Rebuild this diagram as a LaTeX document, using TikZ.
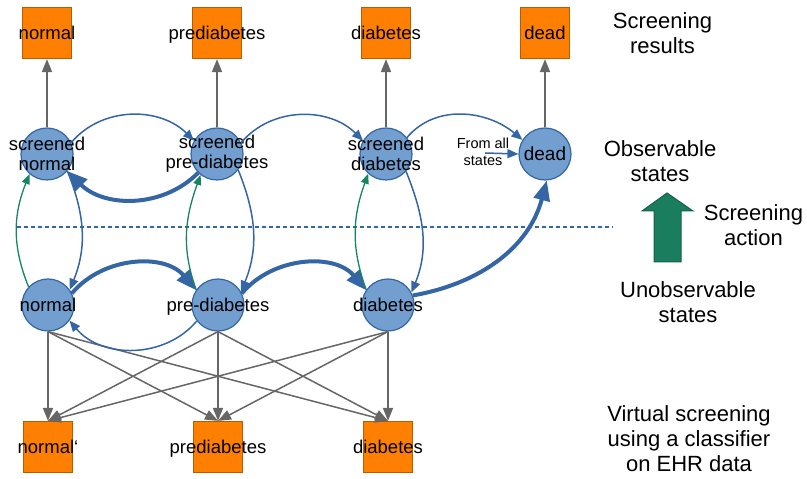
\documentclass[tikz,border=0pt]{standalone}
\usepackage{fontspec}
\setmainfont{Liberation Sans}
\usetikzlibrary{arrows.meta}

\definecolor{boxfill}{RGB}{255,128,0}
\definecolor{boxline}{RGB}{184,92,0}
\definecolor{statefill}{RGB}{114,159,207}
\definecolor{stateline}{RGB}{52,101,164}
\definecolor{linkgray}{RGB}{102,102,102}
\definecolor{screengreen}{RGB}{21,133,98}
\definecolor{bigfill}{RGB}{26,125,94}
\definecolor{bigline}{RGB}{17,98,72}

\tikzset{
  state/.style={circle, draw=stateline, fill=statefill, line width=1.2pt,
    minimum size=52pt, inner sep=0pt},
  result/.style={rectangle, draw=boxline, fill=boxfill, line width=1.2pt,
    minimum width=49pt, minimum height=51pt, inner sep=0pt},
  stlbl/.style={inner sep=0pt, align=center, text=black,
    font=\fontsize{18.5}{20}\selectfont},
  stone/.style={inner sep=0pt, text=black, text height=13.5pt, text depth=0pt,
    font=\fontsize{18.5}{20}\selectfont},
  boxlbl/.style={inner sep=0pt, text=black, text height=13.5pt, text depth=0pt,
    font=\fontsize{18.5}{20}\selectfont},
  side/.style={inner sep=0pt, align=center, text=black,
    font=\fontsize{22}{25}\selectfont},
  note/.style={inner sep=0pt, align=center, text=black,
    font=\fontsize{14.5}{17}\selectfont},
  flow/.style={draw=stateline, line width=1.5pt,
    -{Triangle[length=11pt,width=9pt]}},
  heavy/.style={draw=stateline, line width=4pt,
    -{Triangle[length=20pt,width=16pt]}},
  screen/.style={draw=screengreen, line width=1.3pt,
    -{Triangle[length=10pt,width=8pt]}},
  report/.style={draw=linkgray, line width=1.5pt,
    -{Triangle[length=13pt,width=10pt]}},
  divider/.style={draw=stateline, line width=1.3pt, dash pattern=on 4pt off 3pt},
}

\begin{document}
\begin{tikzpicture}[x=1pt,y=1pt]
\useasboundingbox (0,0) rectangle (807,479);

% screening results
\node[result, label={[boxlbl]center:normal}]      (rn) at (47,446)  {};
\node[result, label={[boxlbl]center:prediabetes}] (rp) at (217,446) {};
\node[result, label={[boxlbl]center:diabetes}]    (rd) at (386,446) {};
\node[result, label={[boxlbl]center:dead}]        (rx) at (545,446) {};

% observable states
\node[state, label={[stlbl]center:{screened\\normal}}]       (sn) at (47,325)  {};
\node[state, label={[stlbl]center:{screened\\pre-diabetes}}] (sp) at (217,325) {};
\node[state, label={[stlbl]center:{screened\\diabetes}}]     (sd) at (386,325) {};
\node[state, label={[stone,font=\fontsize{19}{20}\selectfont]center:dead}] (dead) at (545,325) {};

% unobservable states
\node[state, label={[stone]center:normal}]       (un) at (48,174)  {};
\node[state, label={[stone]center:pre-diabetes}] (up) at (218,174) {};
\node[state, label={[stone]center:diabetes}]     (ud) at (388,174) {};

% virtual screening results
\node[result, label={[boxlbl]center:normal\symbol{96}}] (vn) at (48,32) {};
\node[result, label={[boxlbl]center:prediabetes}] (vp) at (218,32) {};
\node[result, label={[boxlbl]center:diabetes}]    (vd) at (388,32) {};

% divider between observable and unobservable
\coordinate (dl) at (17,252);
\coordinate (dr) at (613,252);
\draw[divider] (dl) -- (dr);

% side captions
\node[side] (c1) at (662.5,446) {Screening\\results};
\node[side] (c2) at (660,318)   {Observable\\states};
\node[side] (c3) at (753.5,254) {Screening\\action};
\node[side] (c4) at (688,177)   {Unobservable\\states};
\node[side] (c5) at (689,40)    {Virtual screening\\using a classifier\\on EHR data};

% screening action arrow
\draw[fill=bigfill, draw=bigline, line width=1pt]
  (667,286) -- (693,268) -- (681,268) -- (681,217) -- (654,217)
  -- (654,268) -- (642,268) -- cycle;

% screening results
\draw[report] (sn.north) -- (rn.south);
\draw[report] (sp.north) -- (rp.south);
\draw[report] (sd.north) -- (rd.south);
\draw[report] (dead.north) -- (rx.south);

% virtual screening
\foreach \s in {un,up,ud}
  \foreach \t in {vn,vp,vd}
    \draw[report] (\s.south) -- (\t.north);

% observable transitions
\draw[flow] (sn.25) to[out=50,in=135] (sp.150);
\draw[flow] (sp.25) to[out=50,in=135] (sd.150);
\draw[flow] (sd.38) to[out=50,in=140] (dead.148);
\draw[heavy] (sp.225) to[out=-135,in=-45] (sn.320);

% transitions from all states to dead
\node[note] (fa) at (483,327) {From all\\states};
\coordinate (fs) at (485,326);
\draw[flow] (fs) -- (dead.west);

% unobservable transitions
\draw[heavy] (un.26) to[out=50,in=130] (up.146);
\draw[heavy] (up.26) to[out=50,in=130] (ud.146);
\draw[flow] (up.217) to[out=-130,in=-50] (un.324);
\draw[heavy] (ud.21) to[out=10,in=-105] (dead.-86);

% leaving the observed state
\draw[flow] (sn.-40) to[out=-68,in=68] (un.35);
\draw[flow] (sp.-37) to[out=-68,in=68] (up.30);
\draw[flow] (sd.-41) to[out=-68,in=68] (ud.28);

% screening reveals the state
\draw[screen] (un.137) to[out=112,in=-112] (sn.229);
\draw[screen] (up.145) to[out=110,in=-110] (sp.232);
\draw[screen] (ud.145) to[out=110,in=-110] (sd.228);
\end{tikzpicture}
\end{document}
